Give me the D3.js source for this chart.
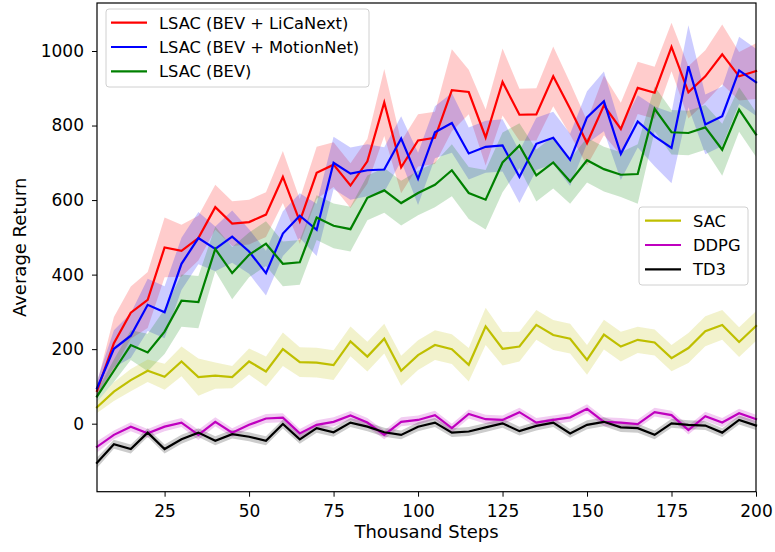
<!DOCTYPE html>
<html>
<head>
<meta charset="utf-8">
<script src="https://cdn.jsdelivr.net/npm/d3@7/dist/d3.min.js"></script>
<style>
  body { margin: 0; background: #fff; }
  text { font-family: "DejaVu Sans", sans-serif; }
</style>
</head>
<body>
<div id="plot"></div>
<script>
// x values (thousand steps)
var steps = [5,10,15,20,25,30,35,40,45,50,55,60,65,70,75,80,85,90,95,100,
             105,110,115,120,125,130,135,140,145,150,155,160,165,170,175,180,185,190,195,200];

// mean returns
var licanext = [88,216,298,332,473,464,498,581,537,541,561,662,543,673,695,639,704,862,688,760,
                767,895,890,768,917,829,830,932,845,753,854,791,901,888,1011,889,932,991,932,946];
var motionnet = [95,201,236,319,299,429,498,469,502,462,404,510,558,520,700,671,680,682,765,657,
                 782,807,725,743,747,662,751,767,708,822,865,724,811,771,740,959,803,825,948,916];
var bev = [73,142,211,191,247,330,326,469,404,453,483,429,433,553,531,522,606,626,592,619,
           641,680,619,601,701,746,666,701,650,707,683,668,670,845,782,780,795,735,843,776];
var sac = [44,86,117,142,126,167,125,129,125,167,140,200,165,164,157,221,180,228,142,184,
           211,200,158,261,201,207,265,238,228,171,239,207,225,218,176,203,248,265,219,262];
var ddpg = [-62,-30,-8,-26,-8,3,-30,5,-24,-3,14,16,-26,-3,5,22,3,-30,5,10,
            23,-12,26,12,10,31,3,10,17,40,5,3,-1,31,23,-17,20,3,28,12];
var td3 = [-105,-55,-68,-24,-68,-42,-24,-46,-28,-35,-46,-1,-42,-12,-23,3,-8,-23,-30,-8,
           3,-24,-21,-10,1,-20,-6,3,-26,-3,5,-10,-12,-30,1,-3,-5,-24,10,-5];

// half-width of the shaded band
var licanextSd = [20,70,70,75,80,70,60,60,60,60,60,70,60,70,60,60,60,90,70,70,
                  70,110,60,75,90,70,70,80,70,60,80,70,70,70,65,70,70,80,65,75];
var motionnetSd = [20,50,60,70,70,70,70,60,70,60,60,60,60,70,70,70,70,60,60,70,
                   70,80,70,70,70,70,70,70,70,70,80,70,70,80,95,110,80,80,90,90];
var bevSd = [15,30,40,50,60,70,70,60,70,60,60,60,60,60,60,60,60,60,60,60,
             60,70,70,80,80,60,70,70,60,60,60,60,80,60,60,60,60,70,60,60];
var sacSd = [15,25,30,30,35,40,50,35,30,35,40,45,40,40,40,40,40,40,40,40,
             40,40,45,50,45,40,40,40,40,40,40,40,35,35,35,40,40,40,40,40];
var ddpgSd = [15,12,12,12,12,12,14,12,12,12,12,12,12,12,12,12,12,12,12,12,
              12,12,12,12,12,12,12,12,12,12,12,12,12,12,12,12,12,12,12,12];
var td3Sd = [14,12,12,12,12,12,12,12,12,12,12,12,12,12,12,12,12,12,12,12,
             12,12,12,12,12,12,12,12,12,12,12,12,12,12,12,12,12,12,12,12];

var xTicks = [25,50,75,100,125,150,175,200];
var yTicks = [0,200,400,600,800,1000];

var series = [
  {name: "LSAC (BEV + LiCaNext)", color: "#ff0000", mean: licanext, sd: licanextSd},
  {name: "LSAC (BEV + MotionNet)", color: "#0000ff", mean: motionnet, sd: motionnetSd},
  {name: "LSAC (BEV)", color: "#008000", mean: bev, sd: bevSd},
  {name: "SAC", color: "#bfbf00", mean: sac, sd: sacSd},
  {name: "DDPG", color: "#bf00bf", mean: ddpg, sd: ddpgSd},
  {name: "TD3", color: "#000000", mean: td3, sd: td3Sd}
];

var width = 775, height = 552;
var mLeft = 97, mRight = 756, mTop = 3, mBottom = 491.7;

var svg = d3.select("#plot").append("svg")
    .attr("width", width)
    .attr("height", height);

var x = d3.scaleLinear().domain([5, 200]).range([mLeft, mRight]);
var y = d3.scaleLinear().domain([-182.5, 1128.8]).range([mBottom, mTop]);

var g = svg.append("g");

// bands first, then the mean lines on top
series.forEach(function(s) {
  var pts = steps.map(function(st, i) { return {x: st, m: s.mean[i], sd: s.sd[i]}; });
  var area = d3.area()
      .x(function(d) { return x(d.x); })
      .y0(function(d) { return y(d.m - d.sd); })
      .y1(function(d) { return y(d.m + d.sd); });
  g.append("path")
      .attr("d", area(pts))
      .attr("fill", s.color)
      .attr("fill-opacity", 0.2)
      .attr("stroke", "none");
});
series.forEach(function(s) {
  var pts = steps.map(function(st, i) { return {x: st, m: s.mean[i]}; });
  var line = d3.line()
      .x(function(d) { return x(d.x); })
      .y(function(d) { return y(d.m); });
  g.append("path")
      .attr("d", line(pts))
      .attr("fill", "none")
      .attr("stroke", s.color)
      .attr("stroke-width", 2.2)
      .attr("stroke-linejoin", "miter")
      .attr("stroke-linecap", "square");
});

// axes
var xAxis = svg.append("g")
    .attr("transform", "translate(0," + mBottom + ")")
    .call(d3.axisBottom(x).tickValues(xTicks).tickSize(5).tickPadding(8).tickFormat(d3.format("d")));
var yAxis = svg.append("g")
    .attr("transform", "translate(" + mLeft + ",0)")
    .call(d3.axisLeft(y).tickValues(yTicks).tickSize(5).tickPadding(8).tickFormat(d3.format("d")));
[xAxis, yAxis].forEach(function(a) {
  a.select(".domain").remove();
  a.selectAll("line").attr("stroke", "#000").attr("stroke-width", 1);
  a.selectAll("text").attr("fill", "#000").style("font-size", "17px");
});

// frame
svg.append("rect")
    .attr("x", mLeft).attr("y", mTop)
    .attr("width", mRight - mLeft).attr("height", mBottom - mTop)
    .attr("fill", "none").attr("stroke", "#000").attr("stroke-width", 1.2);

svg.append("text")
    .attr("x", (mLeft + mRight) / 2).attr("y", 538)
    .attr("text-anchor", "middle")
    .style("font-size", "18px")
    .text("Thousand Steps");

svg.append("text")
    .attr("transform", "translate(26," + ((mTop + mBottom) / 2) + ") rotate(-90)")
    .attr("text-anchor", "middle")
    .style("font-size", "18px")
    .text("Average Return");

// legends
function legend(items, bx, by, bw, bh, rows, lx0, lx1, tx) {
  var lg = svg.append("g");
  lg.append("rect")
      .attr("x", bx).attr("y", by).attr("width", bw).attr("height", bh)
      .attr("rx", 3)
      .attr("fill", "#fff").attr("fill-opacity", 0.8)
      .attr("stroke", "#d0d0d0").attr("stroke-width", 1);
  items.forEach(function(s, i) {
    lg.append("line")
        .attr("x1", lx0).attr("x2", lx1)
        .attr("y1", rows[i]).attr("y2", rows[i])
        .attr("stroke", s.color).attr("stroke-width", 2.2);
    lg.append("text")
        .attr("x", tx).attr("y", rows[i])
        .attr("dy", "0.36em")
        .style("font-size", "16.3px")
        .text(s.name);
  });
}
legend(series.slice(0, 3), 106, 9, 263, 78, [22.7, 47, 71.3], 111, 147, 159);
legend(series.slice(3), 639, 207, 109, 78, [220.7, 245, 269.3], 645, 681, 693);
</script>
</body>
</html>
